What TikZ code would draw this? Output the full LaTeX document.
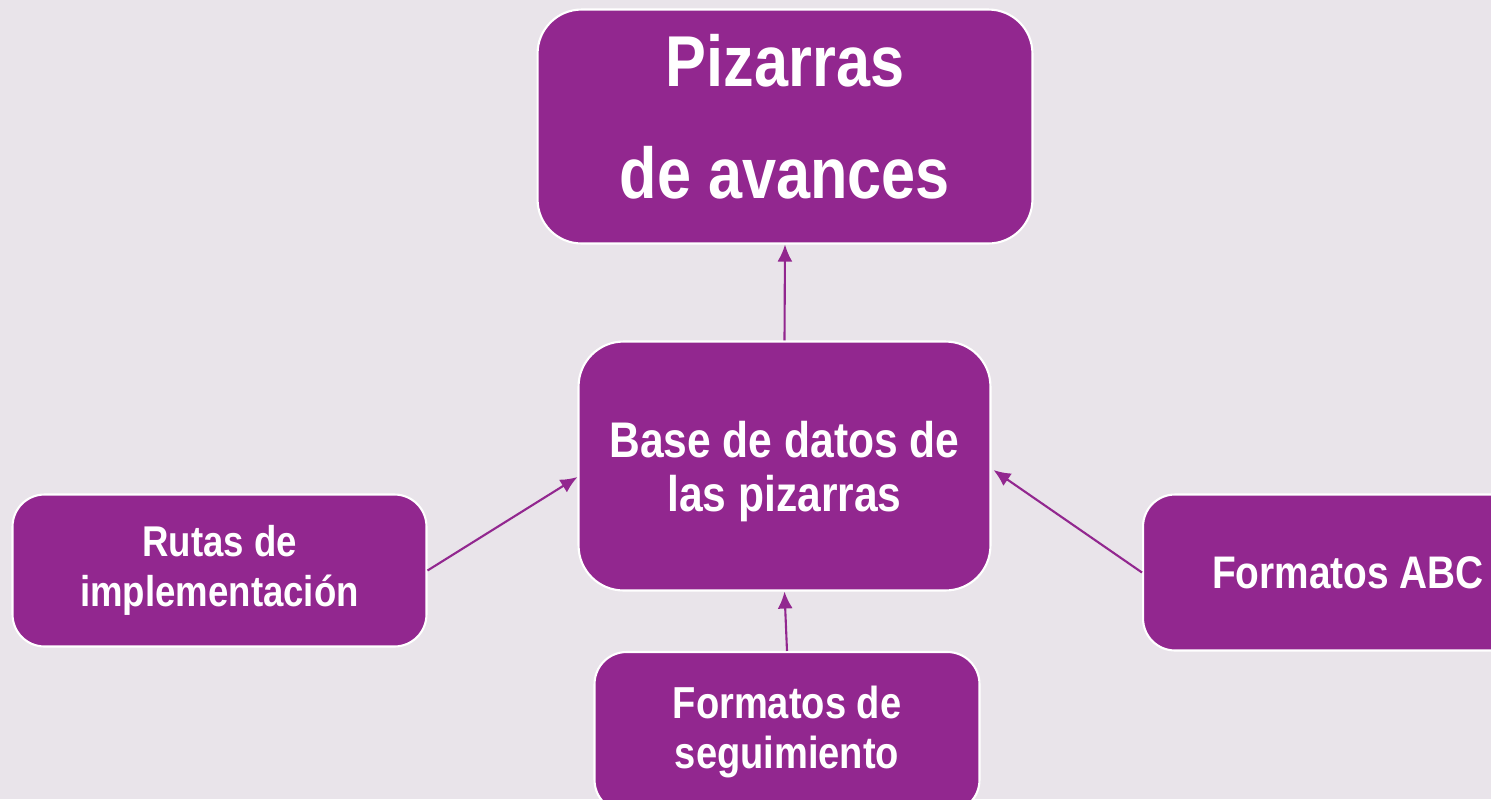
\documentclass[tikz,border=0pt]{standalone}
\usepackage{fontspec}
\setmainfont{Liberation Sans}[FakeStretch=0.85]
\usetikzlibrary{arrows.meta}
\definecolor{purp}{HTML}{92278F}
\definecolor{bg}{HTML}{E9E4EA}
\tikzset{
  box/.style={draw=white, line width=1.2pt, fill=purp, text=white, align=center,
    font=\bfseries, inner sep=0pt},
  conn/.style={draw=purp, line width=1.2pt, -{Latex[length=0.34cm,width=0.3cm]}}
}
\begin{document}
\begin{tikzpicture}[x=0.02cm,y=-0.02cm]
\clip (0,0) rectangle (1491,799);
\fill[bg] (0,0) rectangle (1491,799);
\node[box, rounded corners=0.88cm, minimum width=9.9cm, minimum height=4.68cm,
  font=\bfseries\fontsize{41}{64}\selectfont] (t) at (785,126.5) {Pizarras\\de avances\rule[-11.4pt]{0pt}{11.4pt}};
\node[box, rounded corners=0.9cm, minimum width=8.24cm, minimum height=4.98cm,
  font=\bfseries\fontsize{28.5}{30.7}\selectfont] (c) at (784.5,466) {\rule{0pt}{27pt}Base de datos de\\las pizarras};
\node[box, rounded corners=0.64cm, minimum width=8.28cm, minimum height=3.04cm,
  font=\bfseries\fontsize{24.5}{28.5}\selectfont] (l) at (219.5,570.5) {Rutas de\\implementación};
\node[box, rounded corners=0.64cm, minimum width=8.2cm, minimum height=3.12cm,
  font=\bfseries\fontsize{26}{28.5}\selectfont] (r) at (1348,572.5) {Formatos ABC};
\node[box, rounded corners=0.64cm, minimum width=7.7cm, minimum height=3.2cm,
  font=\bfseries\fontsize{25.5}{28.5}\selectfont] (b) at (787,732) {Formatos de\\seguimiento};
\draw[conn] (c.north) -- (t.south);
\draw[conn] (b.north) -- (c.south);
\draw[conn] (l.east) -- ([yshift=-0.22cm]c.west);
\draw[conn] (r.west) -- ([yshift=-0.08cm,xshift=0.04cm]c.east);
\end{tikzpicture}
\end{document}
